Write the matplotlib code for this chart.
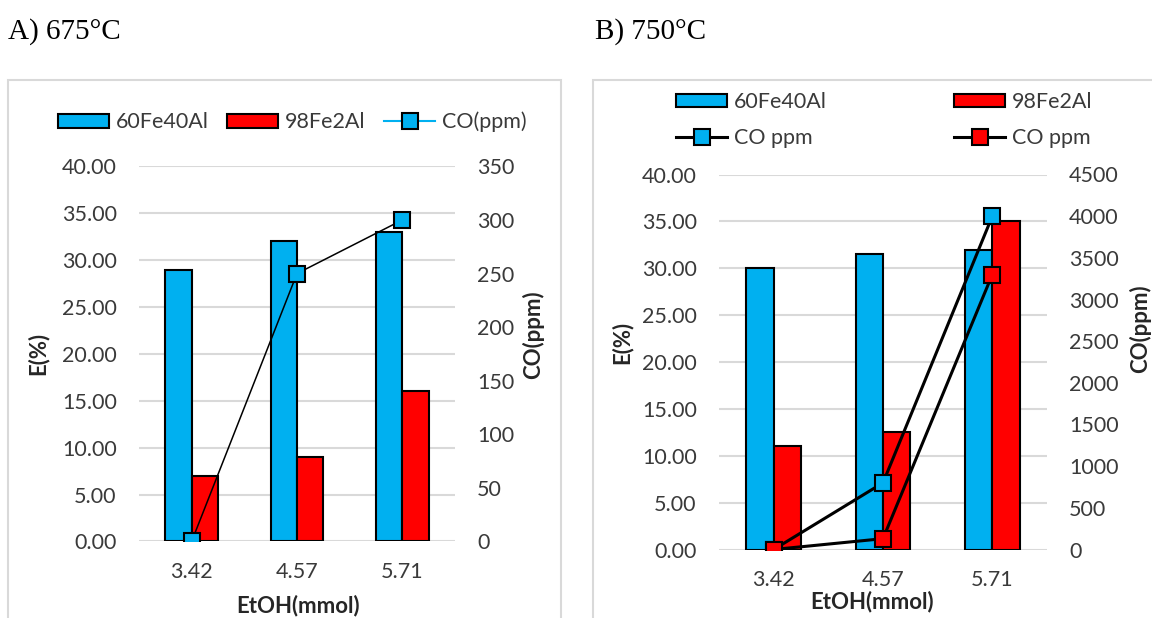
import matplotlib
matplotlib.use("Agg")
import matplotlib.pyplot as plt
import numpy as np
from matplotlib.patches import Rectangle, Patch
from matplotlib.lines import Line2D
from matplotlib.ticker import FormatStrFormatter, MultipleLocator

# ---- data ----
etoh = ["3.42", "4.57", "5.71"]

e_675_60fe40al = [28.9, 32.0, 33.0]
e_675_98fe2al = [7.0, 9.0, 16.0]
co_675 = [0, 250, 300]

e_750_60fe40al = [30.0, 31.5, 32.0]
e_750_98fe2al = [11.0, 12.5, 35.0]
co_750_60fe40al = [0, 800, 4000]
co_750_98fe2al = [0, 130, 3300]

BLUE = "#00B0F0"
RED = "#FF0000"
GRID = "#D9D9D9"
TXT = "#3A3A3A"
LBL = "#262626"
FONT = "Lato"
LBL_SIZE = 16

W, H = 1152, 618
fig = plt.figure(figsize=(W / 100, H / 100), dpi=100)
plt.rcParams["font.family"] = [FONT, "DejaVu Sans"]


def px_axes(x0, y0, x1, y1):
    return fig.add_axes([x0 / W, 1 - y1 / H, (x1 - x0) / W, (y1 - y0) / H])


def frame(x0, y0, x1, y1):
    fig.patches.append(Rectangle((x0 / W, 1 - y1 / H), (x1 - x0) / W, (y1 - y0) / H,
                                 transform=fig.transFigure, fill=False,
                                 edgecolor=GRID, linewidth=1.5, zorder=0))


def style_left(ax, xpad):
    ax.set_ylim(0, 40)
    ax.yaxis.set_major_locator(MultipleLocator(5))
    ax.yaxis.set_major_formatter(FormatStrFormatter("%.2f"))
    ax.set_xlim(-0.5, 2.5)
    ax.set_xticks(range(len(etoh)))
    ax.set_xticklabels(etoh)
    ax.grid(axis="y", color=GRID, linewidth=1.5)
    ax.set_axisbelow(True)
    for s in ax.spines.values():
        s.set_visible(False)
    ax.tick_params(axis="y", length=0, pad=16, labelsize=15.5, labelcolor=TXT)
    ax.tick_params(axis="x", length=0, pad=xpad, labelsize=15.5, labelcolor=TXT)


def style_right(ax2, top, step):
    ax2.set_ylim(0, top)
    ax2.yaxis.set_major_locator(MultipleLocator(step))
    for s in ax2.spines.values():
        s.set_visible(False)
    ax2.tick_params(axis="y", length=0, pad=16, labelsize=15.5, labelcolor=TXT)


x = np.arange(len(etoh))
bw = 0.25
bar_kw = dict(width=bw, edgecolor="black", linewidth=1.5, zorder=3)

# ---------------- A) 675 °C ----------------
frame(8, 80, 561, 640)
fig.text(8 / W, 1 - 39 / H, "A) 675°C", family="Liberation Serif", fontsize=21,
         va="baseline", ha="left", color="black")

axA = px_axes(139, 166.4, 455, 541.4)
style_left(axA, 15)
axA.bar(x - bw / 2, e_675_60fe40al, color=BLUE, **bar_kw)
axA.bar(x + bw / 2, e_675_98fe2al, color=RED, **bar_kw)
axA.set_ylabel("E(%)", fontsize=LBL_SIZE, fontweight="bold", color=LBL)
axA.yaxis.set_label_coords(-0.285, 0.5)
axA.set_xlabel("EtOH(mmol)", fontsize=LBL_SIZE, fontweight="bold", color=LBL)
axA.xaxis.set_label_coords(0.503, -0.143)

axA2 = axA.twinx()
style_right(axA2, 350, 50)
axA2.plot(x, co_675, color="black", linewidth=1.1, marker="s", markersize=11.5,
          markerfacecolor=BLUE, markeredgecolor="black", markeredgewidth=1.5, zorder=4)
axA2.set_ylabel("CO(ppm)", fontsize=LBL_SIZE, fontweight="bold", color=LBL)
axA2.yaxis.set_label_coords(1.212, 0.55)

handlesA = [
    Patch(facecolor=BLUE, edgecolor="black", linewidth=1.5, label="60Fe40Al"),
    Patch(facecolor=RED, edgecolor="black", linewidth=1.5, label="98Fe2Al"),
    Line2D([], [], color=BLUE, linewidth=1.5, marker="s", markersize=11.5,
           markerfacecolor=BLUE, markeredgecolor="black", markeredgewidth=1.5,
           label="CO(ppm)"),
]
fig.legend(handles=handlesA, loc="center", bbox_to_anchor=(292 / W, 1 - 122 / H),
           ncol=3, frameon=False, fontsize=15.5, handlelength=2.4, handleheight=0.6,
           handletextpad=0.3, columnspacing=0.85, labelcolor=TXT)

# ---------------- B) 750 °C ----------------
frame(593, 80, 1200, 640)
fig.text(595 / W, 1 - 39 / H, "B) 750°C", family="Liberation Serif", fontsize=21,
         va="baseline", ha="left", color="black")

axB = px_axes(719, 174.5, 1047, 549.5)
style_left(axB, 15)
axB.bar(x - bw / 2, e_750_60fe40al, color=BLUE, **bar_kw)
axB.bar(x + bw / 2, e_750_98fe2al, color=RED, **bar_kw)
axB.set_ylabel("E(%)", fontsize=LBL_SIZE, fontweight="bold", color=LBL)
axB.yaxis.set_label_coords(-0.262, 0.553)
axB.set_xlabel("EtOH(mmol)", fontsize=LBL_SIZE, fontweight="bold", color=LBL)
axB.xaxis.set_label_coords(0.466, -0.11)

axB2 = axB.twinx()
style_right(axB2, 4500, 500)
line_kw = dict(color="black", linewidth=2.2, marker="s", markersize=11.5,
               markeredgecolor="black", markeredgewidth=1.5, zorder=4)
axB2.plot(x, co_750_60fe40al, markerfacecolor=BLUE, **line_kw)
axB2.plot(x, co_750_98fe2al, markerfacecolor=RED, **line_kw)
axB2.set_ylabel("CO(ppm)", fontsize=LBL_SIZE, fontweight="bold", color=LBL)
axB2.yaxis.set_label_coords(1.25, 0.59)

handlesB = [
    Patch(facecolor=BLUE, edgecolor="black", linewidth=1.5, label="60Fe40Al"),
    Line2D([], [], markerfacecolor=BLUE, label="CO ppm", **line_kw),
    Patch(facecolor=RED, edgecolor="black", linewidth=1.5, label="98Fe2Al"),
    Line2D([], [], markerfacecolor=RED, label="CO ppm", **line_kw),
]
fig.legend(handles=handlesB, loc="center", bbox_to_anchor=(884 / W, 1 - 120 / H),
           ncol=2, frameon=False, fontsize=15.5, handlelength=2.4, handleheight=0.6,
           handletextpad=0.3, columnspacing=5.9, labelspacing=0.72, labelcolor=TXT)

fig.savefig("out.png", dpi=100)
